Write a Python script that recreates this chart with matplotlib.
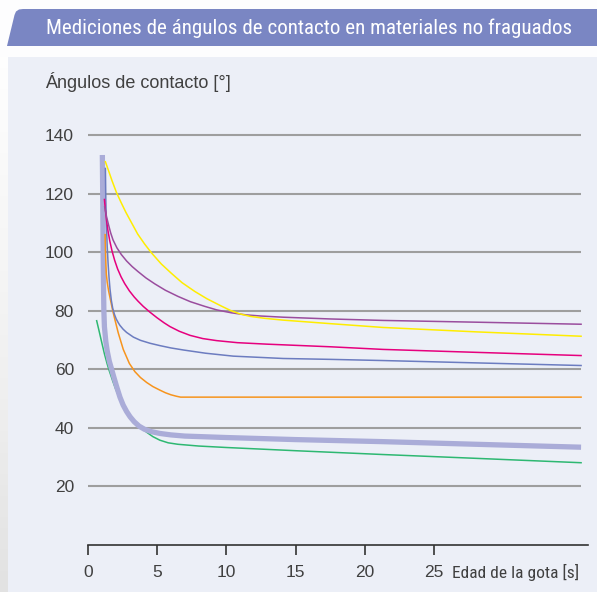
import numpy as np
import matplotlib.pyplot as plt
from matplotlib import font_manager
from matplotlib.patches import Polygon, Rectangle

# data (time in s, contact angle in degrees)
t_yellow = [1.27, 1.5, 1.75, 2.06, 2.4, 2.75, 3.14, 3.6, 4.1, 4.59, 5.3, 6.03, 6.8, 7.72, 8.6, 9.64, 10.3, 11.0, 11.7, 12.8, 14.1, 17.5, 21.3, 28.0, 35.6]
a_yellow = [130.9, 127.8, 124.4, 120.5, 117.0, 113.6, 110.2, 106.2, 102.8, 99.8, 96.0, 92.8, 89.6, 86.6, 84.1, 81.6, 80.1, 78.9, 78.1, 77.4, 76.8, 75.6, 74.3, 72.8, 71.3]

t_purple = [1.22, 1.35, 1.5, 1.65, 1.82, 2.1, 2.42, 2.8, 3.2, 3.62, 4.2, 4.83, 5.6, 6.51, 7.4, 8.44, 9.3, 10.36, 11.4, 12.5, 14.1, 17.5, 21.3, 28.0, 35.6]
a_purple = [115.5, 112.2, 109.3, 106.6, 104.2, 101.5, 99.2, 97.0, 95.1, 93.4, 91.2, 89.2, 87.0, 84.9, 83.1, 81.5, 80.3, 79.3, 78.6, 78.2, 77.8, 77.2, 76.7, 76.1, 75.4]

t_pink = [1.2, 1.27, 1.35, 1.45, 1.58, 1.75, 1.94, 2.15, 2.4, 2.66, 3.0, 3.35, 3.62, 4.0, 4.49, 5.0, 5.5, 5.93, 6.6, 7.38, 8.3, 9.3, 10.8, 12.9, 17.5, 21.3, 28.0, 35.6]
a_pink = [118.0, 114.4, 111.0, 107.5, 104.0, 100.4, 97.2, 94.3, 91.6, 89.3, 86.8, 84.7, 83.3, 81.5, 79.5, 77.6, 75.9, 74.6, 73.0, 71.6, 70.5, 69.8, 69.1, 68.6, 67.7, 66.8, 65.8, 64.7]

t_blue = [1.27, 1.3, 1.34, 1.4, 1.46, 1.53, 1.6, 1.7, 1.8, 1.92, 2.05, 2.2, 2.32, 2.55, 2.8, 3.29, 3.8, 4.49, 5.2, 6.0, 6.9, 8.5, 10.5, 14.1, 17.5, 21.3, 28.0, 35.6]
a_blue = [128.6, 118.0, 110.0, 102.0, 96.5, 91.5, 87.5, 83.5, 80.8, 78.8, 77.2, 75.9, 75.0, 73.7, 72.6, 71.0, 69.9, 68.9, 68.1, 67.3, 66.6, 65.5, 64.5, 63.7, 63.4, 63.0, 62.2, 61.3]

t_orange = [1.25, 1.28, 1.31, 1.34, 1.4, 1.5, 1.65, 1.8, 1.96, 2.2, 2.56, 3.0, 3.4, 3.8, 4.25, 4.7, 5.2, 5.6, 6.0, 6.4, 6.7, 35.6]
a_orange = [106.0, 100.0, 95.5, 92.5, 89.8, 86.8, 83.4, 80.0, 76.9, 72.4, 66.8, 62.0, 59.2, 57.2, 55.5, 54.1, 52.9, 52.0, 51.3, 50.8, 50.5, 50.5]

t_thick = [1.05, 1.08, 1.1, 1.13, 1.16, 1.2, 1.3, 1.4, 1.55, 1.72, 1.9, 2.1, 2.32, 2.55, 2.8, 3.05, 3.35, 3.7, 4.1, 4.6, 5.2, 6.0, 7.0, 10.0, 15.0, 21.3, 28.0, 35.6]
a_thick = [133.2, 118.0, 105.0, 90.0, 80.0, 74.5, 69.5, 66.3, 62.8, 60.0, 57.0, 53.8, 50.5, 47.8, 45.6, 43.8, 42.1, 40.6, 39.5, 38.7, 38.1, 37.6, 37.2, 36.7, 36.0, 35.3, 34.4, 33.4]

t_green = [0.64, 0.8, 1.0, 1.2, 1.4, 1.55, 1.8, 2.0, 2.25, 2.5, 2.8, 3.05, 3.3, 3.6, 3.9, 4.25, 4.7, 5.2, 5.8, 6.5, 8.0, 10.0, 15.0, 21.3, 28.0, 35.6]
a_green = [76.6, 73.4, 69.3, 65.3, 61.8, 59.5, 56.0, 53.4, 50.6, 48.2, 45.9, 44.2, 42.7, 41.1, 39.8, 38.5, 37.0, 35.8, 34.9, 34.4, 33.8, 33.3, 32.2, 30.9, 29.6, 28.1]

y_ticks = [20, 40, 60, 80, 100, 120, 140]
x_ticks = [0, 5, 10, 15, 20, 25]

W, H = 597, 592

# pick a condensed face if one is installed
fonts = font_manager.fontManager.ttflist
names = {f.name for f in fonts}
narrow = dict(family=['DejaVu Sans'])
for n in ['Liberation Sans Narrow', 'Roboto Condensed', 'Open Sans Condensed']:
    if n in names:
        narrow = dict(family=[n, 'DejaVu Sans'])
        break
else:
    if any(f.name == 'DejaVu Sans' and f.stretch == 'condensed' for f in fonts):
        narrow = dict(family=['DejaVu Sans'], fontstretch='condensed')
    elif 'Roboto' in names:
        narrow = dict(family=['Roboto', 'DejaVu Sans'])
plain = ['Liberation Sans', 'DejaVu Sans']

fig = plt.figure(figsize=(W / 100, H / 100), dpi=100)
fig.patch.set_facecolor('#fdfdfe')

def fx(px):
    return px / W

def fy(py):
    return 1 - py / H

# background panel
fig.patches.append(Rectangle((fx(7.5), 0), 1 - fx(7.5), fy(57), transform=fig.transFigure,
                             facecolor='#eceff7', edgecolor='none', zorder=-2))
# grey shadow strip on the left
strip = fig.add_axes([0, 0, fx(7.5), fy(57)], zorder=-1)
strip.imshow(np.linspace(0.01, 0.2, 50).reshape(-1, 1), cmap='Greys', vmin=0, vmax=1,
             aspect='auto', extent=[0, 1, 0, 1], origin='upper')
strip.axis('off')

# title bar
bar = [(7, 46), (14.5, 15), (16, 11.5), (19, 9.5), (23, 9), (597, 9), (597, 46)]
fig.patches.append(Polygon([(fx(a), fy(b)) for a, b in bar], closed=True, transform=fig.transFigure,
                           facecolor='#7a86c3', edgecolor='none', zorder=-2))
title = fig.text(fx(46), fy(28), 'Mediciones de ángulos de contacto en materiales no fraguados',
                 color='white', fontsize=17, va='center', ha='left', **narrow)

ax = fig.add_axes([fx(87.8), fy(545), fx(588) - fx(87.8), 145 * 2.928 / H], zorder=2)
ax.set_facecolor('none')
ax.set_xlim(0, 36.1)
ax.set_ylim(0, 145)

ax.hlines(y_ticks, 0, 35.6, color='#9e9e9e', lw=1.5, zorder=1)

ax.plot(t_green, a_green, color='#2eb872', lw=1.1, zorder=2)
ax.plot(t_thick, a_thick, color='#aaacd8', lw=3.8, zorder=3, solid_capstyle='butt')
ax.plot(t_orange, a_orange, color='#f7941d', lw=1.1, zorder=4)
ax.plot(t_blue, a_blue, color='#6c7cc0', lw=1.1, zorder=4)
ax.plot(t_pink, a_pink, color='#e6007e', lw=1.1, zorder=4)
ax.plot(t_purple, a_purple, color='#9a4d9e', lw=1.1, zorder=4)
ax.plot(t_yellow, a_yellow, color='#ffed00', lw=1.1, zorder=4)

for s in ['top', 'right', 'left']:
    ax.spines[s].set_visible(False)
ax.spines['bottom'].set_color('#333333')
ax.spines['bottom'].set_linewidth(1.2)

ax.set_xticks(x_ticks)
ax.set_yticks(y_ticks)
ax.tick_params(axis='x', length=7.2, width=1.2, color='#333333', pad=7, labelsize=12.5, labelcolor='#404040')
ax.tick_params(axis='y', length=0, pad=10, labelsize=12.5, labelcolor='#404040')
for lab in ax.get_xticklabels() + ax.get_yticklabels():
    lab.set_family(plain)

fig.text(fx(45), fy(82), 'Ángulos de contacto [°]', fontsize=13, family=plain,
         color='#404040', va='center', ha='left')
xlab = fig.text(fx(452), fy(572), 'Edad de la gota [s]', fontsize=12.5,
                color='#404040', va='center', ha='left', **narrow)

# shrink the condensed texts if the face found is wider than the original
fig.canvas.draw()
for txt, width in [(title, 526), (xlab, 130)]:
    w = txt.get_window_extent().width
    if w > width:
        txt.set_fontsize(txt.get_fontsize() * width / w)

fig.savefig('out.png', dpi=100)
